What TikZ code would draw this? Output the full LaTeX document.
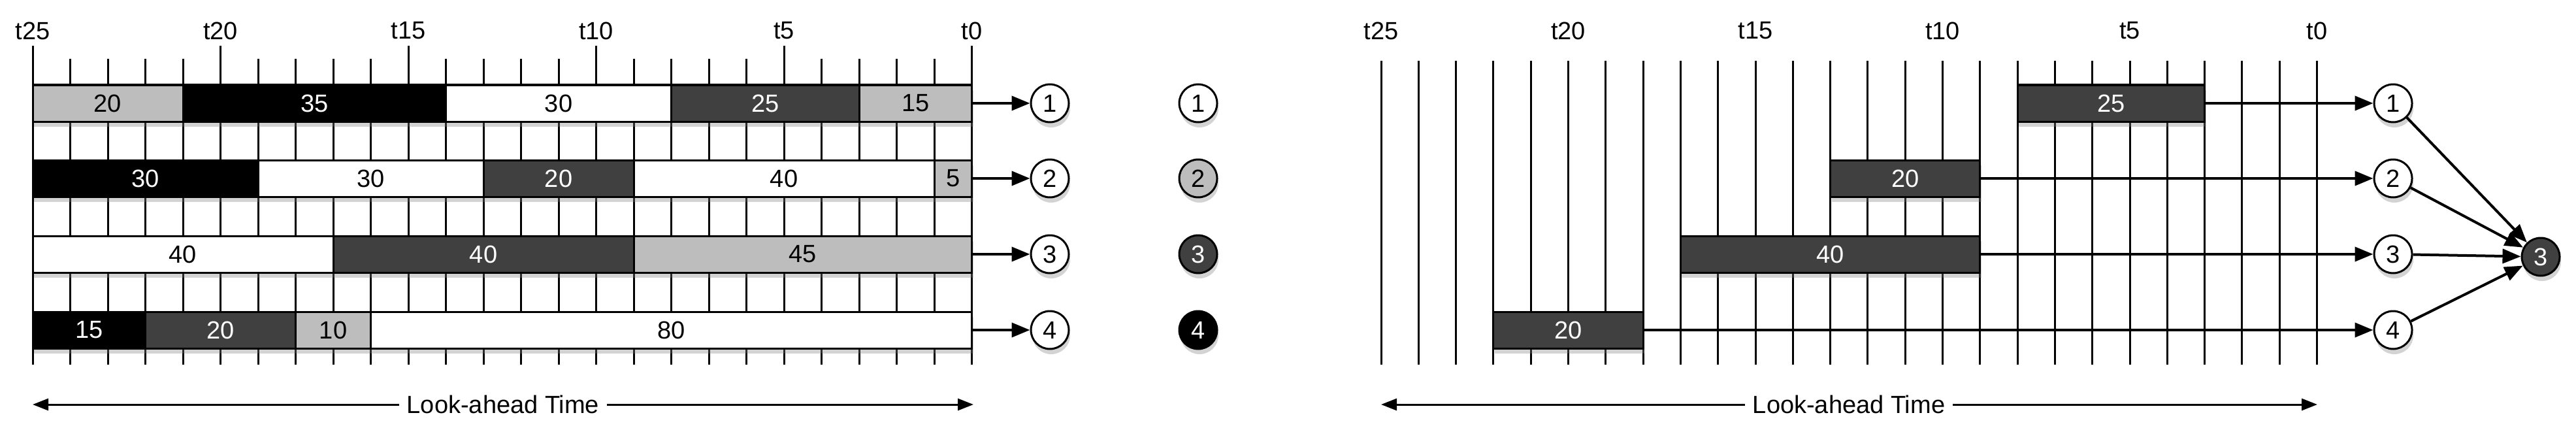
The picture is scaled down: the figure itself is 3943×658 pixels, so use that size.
\documentclass[tikz,border=0pt]{standalone}
\usepackage{fontspec}
\setmainfont{Liberation Sans}
\usetikzlibrary{arrows.meta,shadows}
\definecolor{lg}{HTML}{BDBDBD}
\definecolor{dg}{HTML}{404040}
\begin{document}
\begin{tikzpicture}[x=0.5pt,y=-0.5pt,
  every node/.style={font=\fontsize{19}{22}\selectfont},
  gridline/.style={line width=1.5pt},
  shd/.style={drop shadow={opacity=0.35,shadow xshift=1pt,shadow yshift=-4pt}},
  bar/.style={draw,line width=1.5pt,minimum height=28pt,inner sep=0pt,shd},
  fw/.style={fill=white,text=black},
  fg/.style={fill=lg,text=black},
  fd/.style={fill=dg,text=white},
  fk/.style={fill=black,text=white},
  circ/.style={circle,draw,line width=1.5pt,minimum size=29pt,inner sep=0pt,shd},
  arr/.style={line width=2pt,-{Triangle[length=14pt,width=11pt]}},
  arrs/.style={line width=1.5pt,{Triangle[length=12pt,width=9pt]}-{Triangle[length=12pt,width=9pt]}}]
\useasboundingbox (0,0) rectangle (3943,658);
% ---------- left grid ----------
\foreach \i in {0,...,25}{
  \pgfmathsetmacro{\xx}{50+57.5*\i}
  \pgfmathtruncatemacro{\m}{mod(\i,5)==0 ? 1 : 0}
  \ifnum\m=1
    \draw[gridline] (\xx,70) -- (\xx,558);
    \pgfmathtruncatemacro{\lab}{25-\i}
    \node at (\xx,47) {t\lab};
  \else
    \draw[gridline] (\xx,90) -- (\xx,558);
  \fi
}
\foreach \r/\a/\b/\s/\t in {
  1/0/4/fg/20, 1/4/11/fk/35, 1/11/17/fw/30, 1/17/22/fd/25, 1/22/25/fg/15,
  2/0/6/fk/30, 2/6/12/fw/30, 2/12/16/fd/20, 2/16/24/fw/40, 2/24/25/fg/5,
  3/0/8/fw/40, 3/8/16/fd/40, 3/16/25/fg/45,
  4/0/3/fk/15, 4/3/7/fd/20, 4/7/9/fg/10, 4/9/25/fw/80}{
  \pgfmathsetmacro{\cx}{50+57.5*(\a+\b)/2}
  \pgfmathsetmacro{\w}{57.5*(\b-\a)*0.5}
  \pgfmathsetmacro{\cy}{\r==1 ? 158 : (\r==2 ? 273 : (\r==3 ? 389 : 505))}
  \node[bar,\s,minimum width=\w pt] (L\r-\b) at (\cx,\cy) {\t};
}
\foreach \r/\y in {1/158,2/273,3/389,4/505}{
  \node[circ,fill=white] (lc\r) at (1607,\y) {\r};
  \draw[arr] (L\r-25.east) -- (lc\r);
}
\node[circ,fill=white] (lg1) at (1834,158) {1};
\node[circ,fill=lg] (lg2) at (1834,273) {2};
\node[circ,fill=dg,text=white] (lg3) at (1834,389) {3};
\node[circ,fill=black,text=white] (lg4) at (1834,505) {4};
\coordinate (la) at (50,619);
\coordinate (lb) at (1490,619);
\draw[arrs] (la) -- (lb);
\node[fill=white,inner xsep=6pt] (lt) at (770,619) {Look-ahead Time};
% ---------- right grid ----------
\foreach \i in {0,...,25}{
  \pgfmathsetmacro{\xx}{2114+57.3*\i}
  \draw[gridline] (\xx,93) -- (\xx,558);
  \pgfmathtruncatemacro{\m}{mod(\i,5)==0 ? 1 : 0}
  \ifnum\m=1
    \pgfmathtruncatemacro{\lab}{25-\i}
    \node at (\xx,47) {t\lab};
  \fi
}
\foreach \r/\a/\b/\t/\y in {1/17/22/25/158, 2/12/16/20/273, 3/8/16/40/389, 4/3/7/20/505}{
  \pgfmathsetmacro{\cx}{2114+57.3*(\a+\b)/2}
  \pgfmathsetmacro{\w}{57.3*(\b-\a)*0.5}
  \node[bar,fd,minimum width=\w pt] (R\r) at (\cx,\y) {\t};
  \node[circ,fill=white] (rc\r) at (3663,\y) {\r};
  \draw[arr] (R\r.east) -- (rc\r);
}
\node[circ,fill=dg,text=white] (big) at (3889,393) {3};
\foreach \r in {1,...,4}{ \draw[arr] (rc\r) -- (big); }
\coordinate (ra) at (2114,619);
\coordinate (rb) at (3547,619);
\draw[arrs] (ra) -- (rb);
\node[fill=white,inner xsep=6pt] (rt) at (2830,619) {Look-ahead Time};
\end{tikzpicture}
\end{document}
